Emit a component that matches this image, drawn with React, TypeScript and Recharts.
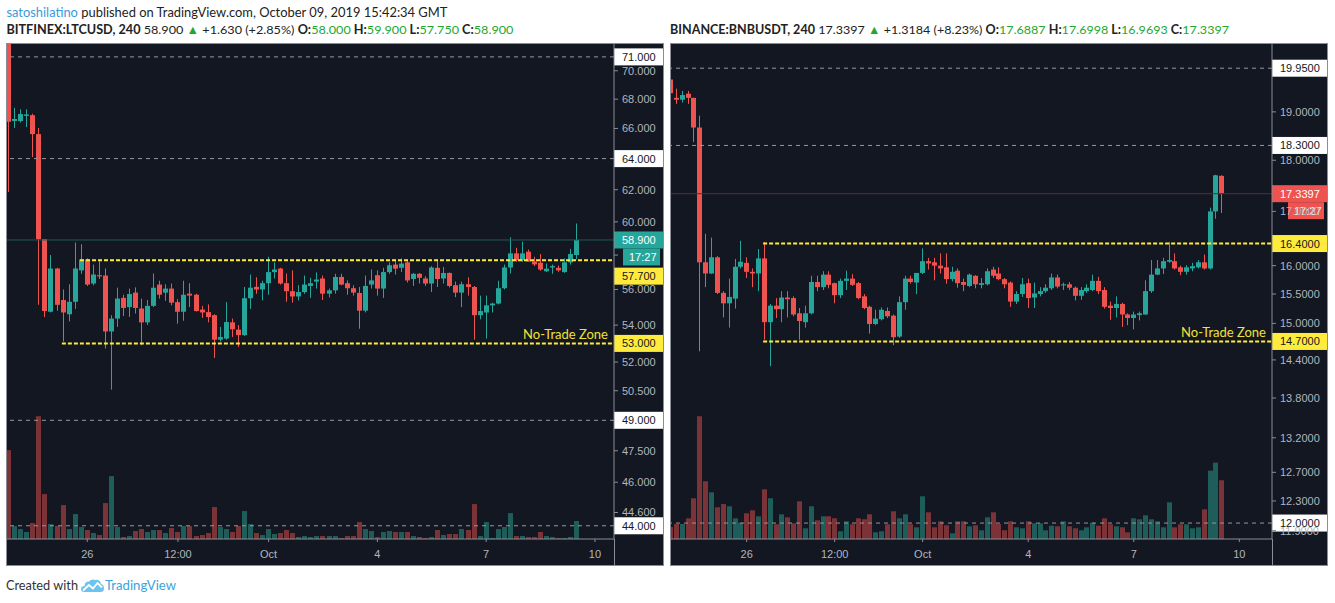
import React from "react";
import { ComposedChart, Bar, XAxis, YAxis, ReferenceLine } from "recharts";

const BG = "#131722";
const UP = "#26a69a";
const DOWN = "#ef5350";
const UP_VOL = "#1e5d5a";
const DOWN_VOL = "#7c3337";
const AXIS_TEXT = "#b2b5be";
const FRAME = "#8a8d95";
const DASH = "#9598a1";
const YELLOW = "#ffeb3b";
const HEAD_GREEN = "#22a82f";
const AXIS_FONT = "'Liberation Sans', Arial, sans-serif";
const HEAD_FONT = "Lato, 'Liberation Sans', sans-serif";

// time axis: candle index -> label (4h candles, index 0 = Sep 23 20:00)
const timeTicks = [13, 28, 43, 61, 79, 97];
const timeLabels = ["26", "12:00", "Oct", "4", "7", "10"];

// ---- BITFINEX:LTCUSD 240 ----
const ltcOpen = [
  72.5, 66.5, 66.5, 66.85, 66.9, 65.62, 58.95, 54.74, 57.21, 55.4,
  54.6, 55.3, 57.1, 57.74, 56.34, 56.82, 56.8, 53.65, 54.36, 55.52,
  55.0, 55.82, 54.92, 54.15, 55.07, 56.28, 55.82, 56.05, 55.28, 54.74,
  55.76, 55.7, 54.86, 54.72, 54.55, 53.2, 53.26, 54.15, 53.75, 53.45,
  55.5, 56.15, 56.0, 56.36, 57.0, 57.21, 56.36, 55.9, 55.6, 55.85,
  56.2, 56.45, 56.63, 55.76, 55.95, 56.72, 56.36, 56.07, 55.8, 54.8,
  56.28, 56.82, 56.05, 57.0, 57.44, 57.25, 57.57, 56.6, 56.9, 56.63,
  56.34, 57.25, 56.63, 56.95, 56.24, 55.82, 56.3, 56.14, 54.55, 54.7,
  55.1, 55.2, 56.07, 57.27, 58.1, 57.7, 58.2, 57.62, 57.55, 57.05,
  57.27, 57.25, 57.0, 57.57, 58.0,
];
const ltcHigh = [
  73.0, 67.41, 67.3, 67.3, 67.0, 66.03, 58.95, 58.0, 57.25, 56.0,
  56.3, 58.75, 58.64, 57.8, 57.44, 57.64, 57.21, 54.55, 56.1, 55.7,
  56.05, 56.12, 55.48, 55.4, 56.92, 56.5, 56.3, 56.34, 55.45, 56.5,
  56.36, 55.76, 55.07, 55.15, 54.6, 53.9, 55.28, 54.36, 54.0, 56.14,
  56.86, 56.7, 56.5, 57.9, 57.57, 57.25, 56.92, 57.1, 56.24, 56.8,
  56.67, 56.98, 56.8, 56.05, 56.9, 56.9, 56.52, 56.24, 56.14, 56.8,
  57.15, 57.1, 57.25, 57.57, 57.74, 57.8, 57.64, 56.95, 56.95, 56.76,
  57.35, 57.75, 57.3, 56.98, 56.45, 56.45, 56.7, 56.2, 55.65, 55.65,
  55.25, 56.5, 57.44, 59.06, 58.43, 58.8, 58.33, 57.9, 58.06, 57.5,
  57.44, 57.38, 57.8, 58.37, 59.9,
];
const ltcLow = [
  61.85, 66.03, 66.4, 66.1, 64.1, 55.13, 54.45, 54.7, 54.8, 53.1,
  54.2, 54.9, 56.9, 56.2, 56.24, 56.6, 52.72, 50.56, 53.9, 54.5,
  54.45, 54.64, 52.9, 54.0, 55.0, 55.48, 55.35, 55.1, 54.08, 54.24,
  55.0, 54.75, 54.4, 54.15, 52.22, 53.1, 53.2, 53.35, 52.8, 53.4,
  54.9, 55.75, 55.38, 55.7, 56.63, 56.28, 55.3, 55.25, 55.38, 55.75,
  55.52, 56.05, 55.4, 55.55, 55.76, 56.24, 55.7, 55.65, 53.8, 54.7,
  56.05, 55.65, 55.52, 56.9, 56.86, 57.0, 56.4, 56.2, 56.34, 56.2,
  55.85, 56.14, 56.34, 56.12, 55.56, 55.0, 55.65, 53.2, 54.32, 53.26,
  54.7, 55.15, 56.0, 56.92, 57.6, 57.6, 57.6, 57.35, 57.08, 57.0,
  56.9, 57.02, 56.96, 57.44, 57.75,
];
const ltcClose = [
  66.45, 66.64, 66.98, 66.95, 65.62, 58.95, 54.78, 57.21, 55.13, 54.7,
  55.3, 57.21, 57.74, 56.28, 56.86, 56.75, 53.65, 54.36, 55.48, 54.95,
  55.74, 54.95, 54.15, 55.07, 56.1, 55.7, 56.05, 55.25, 54.74, 55.7,
  55.65, 54.78, 54.7, 54.45, 53.2, 53.35, 54.17, 53.77, 53.45, 55.5,
  56.1, 56.0, 56.36, 57.0, 57.15, 56.34, 55.9, 55.6, 55.85, 56.28,
  56.36, 56.57, 55.76, 55.95, 56.72, 56.28, 56.07, 55.82, 54.8, 56.2,
  56.52, 56.05, 57.0, 57.4, 57.2, 57.5, 56.52, 56.9, 56.67, 56.34,
  57.27, 56.6, 56.95, 56.2, 55.82, 56.3, 56.14, 54.55, 54.78, 55.1,
  55.2, 56.07, 57.27, 58.1, 57.7, 58.1, 57.62, 57.45, 57.15, 57.2,
  57.35, 57.1, 57.57, 58.06, 58.9,
];
const ltcVolume = [
  89, 13, 10, 7, 16, 123, 45, 15, 13, 34,
  10, 25, 12, 9, 6, 4, 36, 63, 12, 2,
  3, 8, 10, 7, 9, 9, 6, 11, 7, 13,
  13, 3, 4, 6, 32, 12, 10, 7, 13, 28,
  15, 6, 4, 10, 5, 6, 9, 6, 2, 3,
  2, 3, 3, 3, 3, 1, 3, 3, 17, 10,
  8, 2, 7, 8, 7, 7, 7, 3, 2, 1,
  2, 9, 4, 5, 5, 10, 9, 35, 3, 17,
  1, 10, 12, 26, 3, 3, 2, 2, 7, 3,
  2, 1, 1, 2, 18,
];
const ltcTicks = [70, 68, 66, 62, 60, 58, 56, 54, 52, 50.5, 47.5, 46, 44.6];
const ltcHiddenLabels = [58]; // covered by the countdown tag
const ltcLevels = [71, 64, 49, 44];
const ltcZone = [57.7, 53.0];
const ltcZoneStart = [11.8, 8.8];

// ---- BINANCE:BNBUSDT 240 ----
const bnbOpen = [
  19.7, 19.3, 19.26, 19.39, 19.3, 18.67, 16.06, 15.86, 16.15, 15.52,
  15.34, 15.42, 15.98, 16.05, 15.89, 15.86, 16.13, 15.02, 15.3, 15.24,
  15.44, 15.43, 15.17, 15.02, 15.17, 15.71, 15.62, 15.84, 15.69, 15.48,
  15.73, 15.77, 15.69, 15.46, 15.28, 14.99, 15.07, 15.21, 15.13, 14.78,
  15.36, 15.77, 15.7, 15.87, 16.08, 16.06, 16.0, 15.97, 15.76, 15.91,
  15.71, 15.64, 15.82, 15.66, 15.67, 15.93, 15.86, 15.76, 15.7, 15.37,
  15.5, 15.69, 15.44, 15.5, 15.55, 15.6, 15.79, 15.65, 15.67, 15.61,
  15.47, 15.55, 15.57, 15.73, 15.57, 15.3, 15.26, 15.33, 15.15, 15.09,
  15.14, 15.15, 15.55, 15.84, 15.95, 16.07, 16.08, 15.97, 15.89, 15.95,
  15.97, 16.06, 15.95, 17.0, 17.6887,
];
const bnbHigh = [
  19.76, 19.5, 19.45, 19.45, 19.3, 18.92, 16.58, 16.51, 16.17, 15.55,
  15.77, 16.12, 16.45, 16.15, 15.95, 16.3, 16.43, 15.33, 15.43, 15.55,
  15.55, 15.46, 15.26, 15.3, 15.82, 15.82, 15.9, 15.9, 15.7, 15.77,
  15.91, 15.85, 15.71, 15.5, 15.3, 15.23, 15.27, 15.27, 15.15, 15.46,
  15.82, 15.82, 15.87, 16.31, 16.14, 16.14, 16.22, 16.22, 15.98, 15.95,
  15.77, 15.86, 15.83, 15.78, 15.95, 15.98, 15.97, 15.78, 15.72, 15.55,
  15.78, 15.77, 15.7, 15.62, 15.67, 15.86, 15.84, 15.7, 15.71, 15.63,
  15.62, 15.67, 15.84, 15.8, 15.62, 15.37, 15.46, 15.35, 15.17, 15.2,
  15.2, 15.74, 16.1, 16.1, 16.14, 16.43, 16.22, 16.0, 16.01, 16.05,
  16.1, 16.2, 17.07, 17.71, 17.6998,
];
const bnbLow = [
  19.35, 19.17, 19.2, 19.17, 18.37, 14.54, 15.62, 15.85, 15.5, 15.1,
  14.93, 15.25, 15.95, 15.78, 15.62, 15.55, 14.73, 14.3, 15.09, 15.02,
  15.1, 15.12, 14.73, 14.93, 15.15, 15.55, 15.57, 15.6, 15.34, 15.43,
  15.57, 15.64, 15.41, 15.24, 14.83, 14.97, 15.05, 15.09, 14.64, 14.76,
  15.23, 15.68, 15.5, 15.85, 15.93, 15.74, 15.86, 15.68, 15.72, 15.61,
  15.55, 15.62, 15.6, 15.6, 15.65, 15.78, 15.74, 15.6, 15.28, 15.33,
  15.45, 15.26, 15.26, 15.46, 15.52, 15.57, 15.6, 15.57, 15.57, 15.39,
  15.4, 15.52, 15.55, 15.5, 15.25, 15.06, 15.1, 14.94, 14.97, 14.9,
  15.05, 15.14, 15.52, 15.83, 15.85, 16.05, 15.93, 15.83, 15.84, 15.9,
  15.95, 15.93, 15.93, 16.86, 16.9693,
];
const bnbClose = [
  19.4, 19.26, 19.36, 19.3, 18.67, 16.06, 15.86, 16.15, 15.52, 15.34,
  15.45, 15.98, 16.07, 15.89, 15.86, 16.13, 15.02, 15.3, 15.24, 15.44,
  15.41, 15.15, 15.04, 15.17, 15.71, 15.62, 15.84, 15.66, 15.48, 15.73,
  15.77, 15.66, 15.43, 15.26, 14.99, 15.08, 15.23, 15.12, 14.77, 15.36,
  15.77, 15.71, 15.87, 16.08, 16.04, 16.0, 15.95, 15.76, 15.89, 15.69,
  15.66, 15.84, 15.67, 15.69, 15.9, 15.82, 15.76, 15.67, 15.37, 15.5,
  15.67, 15.43, 15.51, 15.55, 15.61, 15.79, 15.63, 15.67, 15.61, 15.47,
  15.57, 15.61, 15.73, 15.55, 15.28, 15.26, 15.33, 15.15, 15.09, 15.15,
  15.17, 15.55, 15.84, 15.95, 16.08, 16.1, 15.95, 15.89, 15.97, 15.99,
  16.06, 15.95, 17.0, 17.7, 17.3397,
];
const bnbVolume = [
  12, 15, 15, 20.7, 40.7, 122.7, 57.7, 46.7, 31.7, 35,
  32.7, 20.7, 16.3, 25.7, 28.7, 22.7, 49.7, 40.7, 14.7, 24.7,
  21.7, 15.7, 37.7, 10.7, 32.7, 18.7, 22.7, 22.7, 20.7, 7.7,
  17.7, 14.7, 20.7, 19.7, 24.7, 6.7, 7.7, 14.7, 27.7, 20.7,
  24.7, 14.7, 11.7, 42.7, 26.7, 11.7, 17.7, 13.7, 5.7, 17.7,
  17.7, 12.7, 13.7, 8.7, 21.7, 26.7, 15, 8.7, 17.7, 11.7,
  10.7, 17.7, 15.7, 15.7, 8.7, 13.3, 12.7, 17.7, 12.7, 10.7,
  8.7, 11.7, 16.3, 13.3, 20.7, 14.7, 12.7, 11.7, 6.7, 20.7,
  19.7, 23.7, 19.7, 17.7, 11.7, 36.7, 11.7, 14.7, 14.7, 10.7,
  11.7, 29.7, 68.3, 76.3, 58.7,
];
const bnbTicks = [19, 18, 17, 16, 15.5, 15, 14.4, 13.8, 13.2, 12.7, 12.3, 11.9];
const bnbHiddenLabels: number[] = [];
const bnbLevels = [19.95, 18.3, 12.0];
const bnbZone = [16.4, 14.7];
const bnbZoneStart = [15.8, 15.8];

type Row = { i: number; o: number; h: number; l: number; c: number; v: number };

function buildRows(o: number[], h: number[], l: number[], c: number[], v: number[]): Row[] {
  return o.map((_, i) => ({ i, o: o[i], h: h[i], l: l[i], c: c[i], v: v[i] }));
}

const ltcRows = buildRows(ltcOpen, ltcHigh, ltcLow, ltcClose, ltcVolume);
const bnbRows = buildRows(bnbOpen, bnbHigh, bnbLow, bnbClose, bnbVolume);

const isUp = (p: Row) => p.c >= p.o;

const WickShape = (props: any) => {
  const { x, y, width, height, payload } = props;
  if (!payload || x == null || y == null) return <g />;
  const px = Math.floor(x + width / 2);
  const top = Math.min(y, y + height);
  return <rect x={px} y={top} width={1} height={Math.max(1, Math.abs(height))} fill={isUp(payload) ? UP : DOWN} />;
};

const BodyShape = (props: any) => {
  const { x, y, width, height, payload } = props;
  if (!payload || x == null || y == null) return <g />;
  const px = Math.floor(x + width / 2);
  const top = Math.min(y, y + height);
  return <rect x={px - 2} y={top} width={5} height={Math.max(1, Math.abs(height))} fill={isUp(payload) ? UP : DOWN} />;
};

const VolShape = (props: any) => {
  const { x, y, width, height, payload } = props;
  if (!payload || x == null || y == null) return <g />;
  const px = Math.floor(x + width / 2);
  return <rect x={px - 2} y={y} width={5} height={Math.max(0, height)} fill={isUp(payload) ? UP_VOL : DOWN_VOL} />;
};

const TimeTick = (props: any) => {
  const { x, y, payload } = props;
  const k = timeTicks.indexOf(payload.value);
  return (
    <text x={x} y={y} dy={14} textAnchor="middle" fill={AXIS_TEXT} fontSize={11} fontFamily={AXIS_FONT}>
      {k >= 0 ? timeLabels[k] : ""}
    </text>
  );
};

const makePriceTick = (digits: number, hidden: number[]) => (props: any) => {
  const { x, y, payload } = props;
  if (hidden.includes(payload.value)) return <g />;
  return (
    <text x={x} y={y} dy={4} textAnchor="start" fill={AXIS_TEXT} fontSize={11} fontFamily={AXIS_FONT}>
      {Number(payload.value).toFixed(digits)}
    </text>
  );
};

type TagProps = {
  viewBox?: any;
  text: string;
  bg: string;
  fg: string;
  axisW: number;
  dy?: number;
  countdown?: string;
  cdOffset?: number;
  caption?: string;
};

function PriceTag(props: TagProps) {
  const { viewBox, text, bg, fg, axisW, dy = 0, countdown, cdOffset = 9, caption } = props;
  if (!viewBox) return null;
  const right = viewBox.x + viewBox.width;
  const cy = viewBox.y + dy;
  return (
    <g>
      {caption && (
        <text x={right - 6} y={viewBox.y - 4} textAnchor="end" fill="#f2e235" fontSize={13} fontFamily={HEAD_FONT}>
          {caption}
        </text>
      )}
      <rect x={right} y={cy - 8.5} width={axisW} height={17} fill={bg} />
      <text x={right + 8} y={cy + 4} fill={fg} fontSize={11} fontFamily={AXIS_FONT}>
        {text}
      </text>
      {countdown && (
        <g>
          <rect x={right + cdOffset} y={cy + 8.5} width={axisW - cdOffset - 3} height={17} fill={bg} />
          <text x={right + cdOffset + 6} y={cy + 21} fill={fg} fontSize={11} fontFamily={AXIS_FONT}>
            {countdown}
          </text>
        </g>
      )}
    </g>
  );
}

type PanelProps = {
  left: number;
  rows: Row[];
  xDomain: [number, number];
  yDomain: [number, number];
  yTicks: number[];
  hiddenLabels: number[];
  digits: number;
  axisW: number;
  levels: number[];
  zone: number[];
  zoneStart: number[];
  zoneDy: number[];
  last: number;
  lastColor: string;
  lastLine: string;
  cdOffset: number;
};

function Panel(p: PanelProps) {
  const W = 656;
  const H = 521;
  const XH = 26;
  const fmt = (v: number) => v.toFixed(p.digits);
  const vol = Math.max(...p.rows.map((r) => r.v));
  return (
    <div
      style={{
        position: "absolute",
        left: p.left,
        top: 43,
        width: 658,
        height: 523,
        border: `1px solid ${FRAME}`,
        boxSizing: "border-box",
        background: BG,
      }}
    >
      <ComposedChart width={W} height={H} data={p.rows} margin={{ top: 0, right: 0, bottom: 0, left: 0 }} barCategoryGap={0} barGap={0}>
        <XAxis
          xAxisId="time"
          type="number"
          dataKey="i"
          domain={p.xDomain}
          allowDataOverflow
          ticks={timeTicks}
          interval={0}
          height={XH}
          axisLine={{ stroke: FRAME }}
          tickLine={{ stroke: FRAME }}
          tickSize={3}
          tickMargin={2}
          tick={TimeTick}
        />
        <XAxis xAxisId="wick" type="number" dataKey="i" domain={p.xDomain} allowDataOverflow hide height={0} />
        <XAxis xAxisId="body" type="number" dataKey="i" domain={p.xDomain} allowDataOverflow hide height={0} />
        <XAxis xAxisId="vol" type="number" dataKey="i" domain={p.xDomain} allowDataOverflow hide height={0} />
        <YAxis
          yAxisId="price"
          orientation="right"
          type="number"
          scale="log"
          domain={p.yDomain}
          allowDataOverflow
          ticks={p.yTicks}
          interval={0}
          width={p.axisW}
          axisLine={{ stroke: FRAME }}
          tickLine={{ stroke: FRAME }}
          tickSize={4}
          tickMargin={4}
          tick={makePriceTick(p.digits, p.hiddenLabels)}
        />
        <YAxis yAxisId="vol" type="number" domain={[0, vol / 0.248]} hide width={0} />
        <Bar xAxisId="vol" yAxisId="vol" dataKey="v" shape={VolShape} isAnimationActive={false} />
        <Bar xAxisId="wick" yAxisId="price" dataKey={(d: Row) => [d.l, d.h]} shape={WickShape} isAnimationActive={false} />
        <Bar
          xAxisId="body"
          yAxisId="price"
          dataKey={(d: Row) => [Math.min(d.o, d.c), Math.max(d.o, d.c)]}
          shape={BodyShape}
          isAnimationActive={false}
        />
        {p.levels.map((v) => (
          <ReferenceLine
            key={`lv${v}`}
            xAxisId="time"
            yAxisId="price"
            y={v}
            stroke={DASH}
            strokeDasharray="4 4"
            label={<PriceTag text={fmt(v)} bg="#ffffff" fg="#131722" axisW={p.axisW} />}
          />
        ))}
        <ReferenceLine
          xAxisId="time"
          yAxisId="price"
          y={p.last}
          stroke={p.lastLine}
          label={
            <PriceTag text={fmt(p.last)} bg={p.lastColor} fg="#ffffff" axisW={p.axisW} countdown="17:27" cdOffset={p.cdOffset} />
          }
        />
        {p.zone.map((v, k) => (
          <ReferenceLine
            key={`zn${v}`}
            xAxisId="time"
            yAxisId="price"
            segment={[
              { x: p.zoneStart[k], y: v },
              { x: p.xDomain[1], y: v },
            ]}
            stroke={YELLOW}
            strokeWidth={2}
            strokeDasharray="4 2"
            label={
              <PriceTag
                text={fmt(v)}
                bg={YELLOW}
                fg="#131722"
                axisW={p.axisW}
                dy={p.zoneDy[k]}
                caption={k === 1 ? "No-Trade Zone" : undefined}
              />
            }
          />
        ))}
      </ComposedChart>
      <div style={{ position: "absolute", left: W - p.axisW, top: H - XH, width: 1, height: XH, background: FRAME }} />
    </div>
  );
}

type QuoteProps = {
  x: number;
  width: number;
  symbol: string;
  last: string;
  change: string;
  o: string;
  h: string;
  l: string;
  c: string;
};

// one quote line of the header, stretched to the width it has in the screenshot
function QuoteLine(q: QuoteProps) {
  return (
    <text x={q.x} y={34} textLength={q.width} lengthAdjust="spacingAndGlyphs" fontFamily={HEAD_FONT} fontSize={12.3} fill="#222222">
      <tspan fontWeight={700}>{q.symbol}</tspan>
      <tspan>{` ${q.last} `}</tspan>
      <tspan fill={HEAD_GREEN}>▲</tspan>
      <tspan>{` ${q.change} `}</tspan>
      <tspan fontWeight={700}>O:</tspan>
      <tspan fill={HEAD_GREEN}>{q.o}</tspan>
      <tspan fontWeight={700}>{" H:"}</tspan>
      <tspan fill={HEAD_GREEN}>{q.h}</tspan>
      <tspan fontWeight={700}>{" L:"}</tspan>
      <tspan fill={HEAD_GREEN}>{q.l}</tspan>
      <tspan fontWeight={700}>{" C:"}</tspan>
      <tspan fill={HEAD_GREEN}>{q.c}</tspan>
    </text>
  );
}

export default function App() {
  return (
    <div style={{ position: "absolute", left: 0, top: 0, width: 1335, height: 603, background: "#ffffff", overflow: "hidden" }}>
      <svg width={1335} height={42} style={{ position: "absolute", left: 0, top: 0 }}>
        <text x={6.4} y={17} textLength={441} lengthAdjust="spacingAndGlyphs" fontFamily={HEAD_FONT} fontSize={13.5} fill="#222222">
          <tspan fill="#3b9ad9">satoshilatino</tspan>
          <tspan>{" published on TradingView.com, October 09, 2019 15:42:34 GMT"}</tspan>
        </text>
        <QuoteLine
          x={6.4}
          width={507}
          symbol="BITFINEX:LTCUSD, 240"
          last="58.900"
          change="+1.630 (+2.85%)"
          o="58.000"
          h="59.900"
          l="57.750"
          c="58.900"
        />
        <QuoteLine
          x={670}
          width={559}
          symbol="BINANCE:BNBUSDT, 240"
          last="17.3397"
          change="+1.3184 (+8.23%)"
          o="17.6887"
          h="17.6998"
          l="16.9693"
          c="17.3397"
        />
      </svg>

      <Panel
        left={6}
        rows={ltcRows}
        xDomain={[-0.28, 100.15]}
        yDomain={[43.41, 71.94]}
        yTicks={ltcTicks}
        hiddenLabels={ltcHiddenLabels}
        digits={3}
        axisW={49}
        levels={ltcLevels}
        zone={ltcZone}
        zoneStart={ltcZoneStart}
        zoneDy={[16, 0]}
        last={58.9}
        lastColor={UP}
        lastLine="#1f5c58"
        cdOffset={9}
      />
      <Panel
        left={670}
        rows={bnbRows}
        xDomain={[0.09, 102.57]}
        yDomain={[11.788, 20.497]}
        yTicks={bnbTicks}
        hiddenLabels={bnbHiddenLabels}
        digits={4}
        axisW={55}
        levels={bnbLevels}
        zone={bnbZone}
        zoneStart={bnbZoneStart}
        zoneDy={[0, 0]}
        last={17.3397}
        lastColor={DOWN}
        lastLine="#5e2a30"
        cdOffset={16}
      />

      <svg width={200} height={24} style={{ position: "absolute", left: 0, top: 574 }}>
        <text x={6} y={16} textLength={72} lengthAdjust="spacingAndGlyphs" fontFamily={HEAD_FONT} fontSize={13.5} fill="#333333">
          Created with
        </text>
        <g transform="translate(81,4)">
          <path d="M3 14 Q0 14 0 11 Q0 8 3.5 8 Q3.5 3.5 8 3.5 Q10.5 0.5 14.5 2 Q19 1 20 6 Q23 6.5 23 10.5 Q23 14 19.5 14 Z" fill="#6cc4ee" />
          <polyline points="2,12.5 8,7 12,10.5 16.5,5 21,9.5" fill="none" stroke="#ffffff" strokeWidth={1.8} />
        </g>
        <text x={105} y={16} textLength={71} lengthAdjust="spacingAndGlyphs" fontFamily={HEAD_FONT} fontSize={13.5} fill="#3ba3dc">
          TradingView
        </text>
      </svg>
    </div>
  );
}
